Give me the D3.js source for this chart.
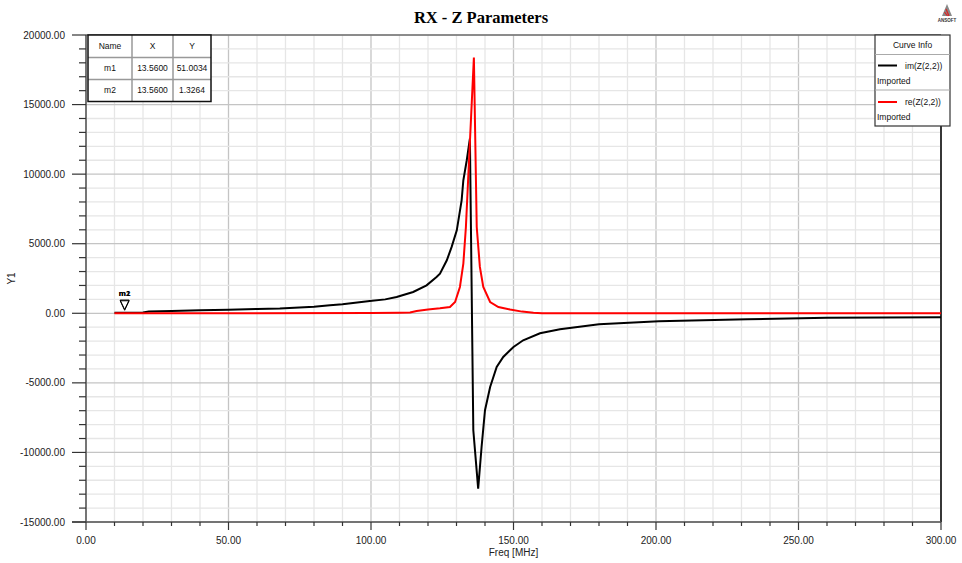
<!DOCTYPE html>
<html>
<head>
<meta charset="utf-8">
<script src="https://cdn.jsdelivr.net/npm/d3@7"></script>
<style>
  body { margin: 0; background: #fff; }
  text { font-family: 'Liberation Sans', Arial, sans-serif; }
</style>
</head>
<body>
<div id="chart"></div>
<script>
// im(Z(2,2))
var imFreq = [10, 20, 22, 30, 40, 50, 60, 68, 80, 85.6, 90, 99.6, 105, 109, 114.8, 119.5, 123, 124.2, 126.6, 128.3, 130.1, 131.8, 132.4, 133.6, 134.7, 135.9, 137.6, 138.8, 140, 141.8, 144.1, 146.4, 148.8, 150, 153.4, 159.3, 166.3, 180, 201, 232, 260, 300]
var imVals = [45, 60, 120, 160, 210, 260, 310, 340, 470, 575, 650, 885, 1000, 1170, 1530, 2010, 2610, 2850, 3810, 4770, 5965, 8120, 9560, 11000, 12555, -8410, -12600, -9610, -6970, -5300, -3860, -3140, -2660, -2420, -1940, -1440, -1150, -790, -575, -430, -320, -290]

// re(Z(2,2))
var reFreq = [10, 50, 100, 110, 113.7, 116, 120, 124.2, 127.7, 129.5, 131.2, 132.4, 133.3, 136.1, 137.1, 138.2, 139.4, 141.8, 144.7, 148.8, 153, 157, 160, 200, 300]
var reVals = [1, 3, 15, 30, 50, 165, 280, 360, 450, 810, 1890, 3570, 6200, 18380, 6200, 3330, 1890, 810, 450, 265, 120, 30, 10, 5, 3]

var xTicks = [0, 50, 100, 150, 200, 250, 300]
var yTicks = [-15000, -10000, -5000, 0, 5000, 10000, 15000, 20000]

var markerNames = ['m1', 'm2']
var markerX = [13.56, 13.56]
var markerY = [51.0034, 1.3264]

var curveNames = ['im(Z(2,2))', 're(Z(2,2))']
var curveColors = ['#000000', '#ff0000']

var margin = { top: 35, left: 86, right: 21, bottom: 41 }
var width = 962 - margin.left - margin.right
var height = 563 - margin.top - margin.bottom

var root = d3
  .select('#chart')
  .append('svg')
  .attr('width', 962)
  .attr('height', 563)

var svg = root
  .append('g')
  .attr('transform', 'translate(' + margin.left + ',' + margin.top + ')')

var xScale = d3.scaleLinear().domain([0, 300]).range([0, width])
var yScale = d3.scaleLinear().domain([-15000, 20000]).range([height, 0])

// grid
svg
  .selectAll('.vminor')
  .data(d3.range(0, 301, 10))
  .enter()
  .append('line')
  .attr('x1', d => xScale(d))
  .attr('x2', d => xScale(d))
  .attr('y1', 0)
  .attr('y2', height)
  .attr('stroke', d => (d % 50 === 0 ? '#c4c4c4' : '#e6e6e6'))
  .attr('stroke-width', 1.3)

svg
  .selectAll('.hminor')
  .data(d3.range(-15000, 20001, 1000))
  .enter()
  .append('line')
  .attr('y1', d => yScale(d))
  .attr('y2', d => yScale(d))
  .attr('x1', 0)
  .attr('x2', width)
  .attr('stroke', d => (d % 5000 === 0 ? '#c4c4c4' : '#e6e6e6'))
  .attr('stroke-width', 1.3)

// frame
svg
  .append('line')
  .attr('x1', 0).attr('x2', width).attr('y1', 0).attr('y2', 0)
  .attr('stroke', '#444')
svg
  .append('line')
  .attr('x1', width).attr('x2', width).attr('y1', 0).attr('y2', height)
  .attr('stroke', '#000').attr('stroke-width', 1.5)

// axes
var xAxis = svg.append('g').attr('transform', 'translate(0,' + height + ')')
xAxis
  .append('line')
  .attr('x1', -14).attr('x2', width).attr('y1', 0).attr('y2', 0)
  .attr('stroke', '#555').attr('stroke-width', 1.5)
xAxis
  .selectAll('.xt')
  .data(d3.range(0, 301, 10))
  .enter()
  .append('line')
  .attr('x1', d => xScale(d)).attr('x2', d => xScale(d))
  .attr('y1', 0)
  .attr('y2', d => (d % 50 === 0 ? 8 : 4))
  .attr('stroke', '#333').attr('stroke-width', 1.2)
xAxis
  .selectAll('.xl')
  .data(xTicks)
  .enter()
  .append('text')
  .attr('x', d => xScale(d))
  .attr('y', 22)
  .attr('text-anchor', 'middle')
  .attr('font-size', 10)
  .attr('fill', '#222')
  .text(d => d.toFixed(2))

var yAxis = svg.append('g')
yAxis
  .append('line')
  .attr('x1', 0).attr('x2', 0).attr('y1', 0).attr('y2', height)
  .attr('stroke', '#555').attr('stroke-width', 1.5)
yAxis
  .selectAll('.yt')
  .data(d3.range(-15000, 20001, 1000))
  .enter()
  .append('line')
  .attr('y1', d => yScale(d)).attr('y2', d => yScale(d))
  .attr('x1', d => (d % 5000 === 0 ? -14 : -7))
  .attr('x2', 0)
  .attr('stroke', '#333').attr('stroke-width', 1.2)
yAxis
  .selectAll('.yl')
  .data(yTicks)
  .enter()
  .append('text')
  .attr('x', -21)
  .attr('y', d => yScale(d))
  .attr('dy', '0.35em')
  .attr('text-anchor', 'end')
  .attr('font-size', 10)
  .attr('fill', '#222')
  .text(d => d.toFixed(2))

// axis titles
root
  .append('text')
  .attr('x', margin.left + width / 2)
  .attr('y', 556)
  .attr('text-anchor', 'middle')
  .attr('font-size', 10)
  .attr('fill', '#222')
  .text('Freq [MHz]')

root
  .append('text')
  .attr('transform', 'translate(15,' + (margin.top + yScale(2500)) + ') rotate(-90)')
  .attr('text-anchor', 'middle')
  .attr('font-size', 10)
  .attr('fill', '#222')
  .text('Y1')

root
  .append('text')
  .attr('x', 481)
  .attr('y', 23)
  .attr('text-anchor', 'middle')
  .attr('font-size', 16.5)
  .attr('font-weight', 700)
  .style('font-family', "'Liberation Serif', 'Times New Roman', serif")
  .text('RX - Z Parameters')

// curves
var line = d3
  .line()
  .x(d => xScale(d[0]))
  .y(d => yScale(d[1]))

var plot = svg.append('g')
plot
  .append('path')
  .datum(reFreq.map((f, i) => [f, reVals[i]]))
  .attr('d', line)
  .attr('fill', 'none')
  .attr('stroke', curveColors[1])
  .attr('stroke-width', 2)
plot
  .append('path')
  .datum(imFreq.map((f, i) => [f, imVals[i]]))
  .attr('d', line)
  .attr('fill', 'none')
  .attr('stroke', curveColors[0])
  .attr('stroke-width', 2)
  .lower()

// markers
markerNames.forEach((name, i) => {
  var mx = xScale(markerX[i])
  var my = yScale(markerY[i]) - 3
  svg
    .append('path')
    .attr('d', 'M' + (mx - 4.5) + ',' + (my - 9.5) + 'L' + (mx + 4.5) + ',' + (my - 9.5) + 'L' + mx + ',' + my + 'Z')
    .attr('fill', 'none')
    .attr('stroke', '#000')
    .attr('stroke-width', 1)
  svg
    .append('text')
    .attr('x', mx)
    .attr('y', my - 14)
    .attr('text-anchor', 'middle')
    .attr('font-size', 8)
    .attr('font-weight', 700)
    .text(name)
})

// marker table
var tbl = root.append('g').attr('transform', 'translate(88,35)')
var colX = [0, 44, 85, 123]
var rowY = [0, 22.5, 44.5, 66.5]
tbl
  .append('rect')
  .attr('width', colX[3]).attr('height', rowY[3])
  .attr('fill', '#fff')
tbl
  .selectAll('.cv')
  .data([colX[1], colX[2]])
  .enter()
  .append('line')
  .attr('x1', d => d).attr('x2', d => d)
  .attr('y1', 0).attr('y2', rowY[3])
  .attr('stroke', '#999').attr('stroke-width', 1.5)
tbl
  .selectAll('.rh')
  .data([rowY[1], rowY[2]])
  .enter()
  .append('line')
  .attr('y1', d => d).attr('y2', d => d)
  .attr('x1', 0).attr('x2', colX[3])
  .attr('stroke', '#999').attr('stroke-width', 1.5)
tbl
  .append('rect')
  .attr('width', colX[3]).attr('height', rowY[3])
  .attr('fill', 'none')
  .attr('stroke', '#111').attr('stroke-width', 1.5)

var tableRows = [['Name', 'X', 'Y']].concat(
  markerNames.map((n, i) => [n, markerX[i].toFixed(4), markerY[i].toFixed(4)])
)
tableRows.forEach((row, r) => {
  row.forEach((cell, c) => {
    tbl
      .append('text')
      .attr('x', (colX[c] + colX[c + 1]) / 2)
      .attr('y', (rowY[r] + rowY[r + 1]) / 2)
      .attr('dy', '0.35em')
      .attr('text-anchor', 'middle')
      .attr('font-size', 8.5)
      .attr('fill', '#111')
      .text(cell)
  })
})

// legend
var leg = root.append('g').attr('transform', 'translate(875,35)')
leg
  .append('rect')
  .attr('width', 75).attr('height', 91)
  .attr('fill', '#fff')
  .attr('stroke', '#333').attr('stroke-width', 1.2)
leg
  .selectAll('.ls')
  .data([19.5, 55])
  .enter()
  .append('line')
  .attr('x1', 0).attr('x2', 75)
  .attr('y1', d => d).attr('y2', d => d)
  .attr('stroke', '#aaa').attr('stroke-width', 1)
leg
  .append('text')
  .attr('x', 37.5).attr('y', 13)
  .attr('text-anchor', 'middle')
  .attr('font-size', 8.5)
  .attr('fill', '#111')
  .text('Curve Info')
curveNames.forEach((name, i) => {
  var y0 = 30.5 + i * 36.5
  leg
    .append('line')
    .attr('x1', 3).attr('x2', 22)
    .attr('y1', y0).attr('y2', y0)
    .attr('stroke', curveColors[i]).attr('stroke-width', 2)
  leg
    .append('text')
    .attr('x', 30).attr('y', y0 + 3)
    .attr('font-size', 8.5)
    .attr('fill', '#111')
    .text(name)
  leg
    .append('text')
    .attr('x', 2).attr('y', y0 + 18)
    .attr('font-size', 8.5)
    .attr('fill', '#111')
    .text('Imported')
})

// ansoft logo
var logo = root.append('g').attr('transform', 'translate(947,4)')
logo
  .append('path')
  .attr('d', 'M0,0L5,12L-5,12Z')
  .attr('fill', '#888')
logo
  .append('path')
  .attr('d', 'M-1,5L2,12M-2.5,8L0.5,12')
  .attr('stroke', '#e02020')
  .attr('stroke-width', 1.2)
logo
  .append('text')
  .attr('x', 0).attr('y', 18)
  .attr('text-anchor', 'middle')
  .attr('font-size', 4.5)
  .attr('font-weight', 700)
  .attr('fill', '#333')
  .text('ANSOFT')
</script>
</body>
</html>
